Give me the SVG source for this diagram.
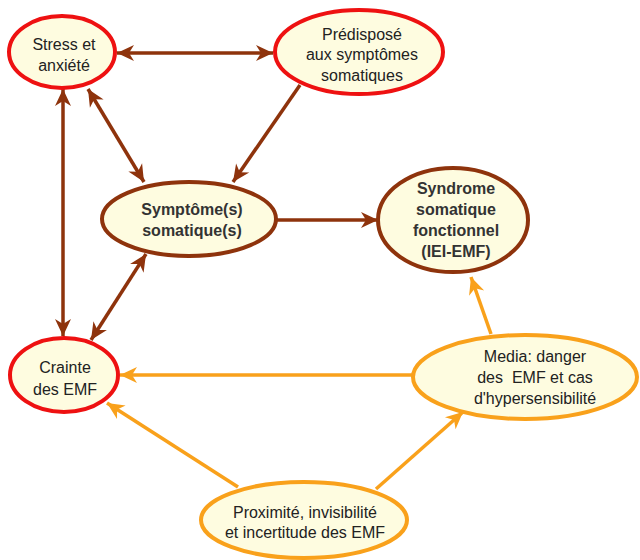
<svg xmlns="http://www.w3.org/2000/svg" width="640" height="560" viewBox="0 0 640 560">
<style>
  .n { fill: #FEFCE0; stroke-width: 4; }
  .red { stroke: #EE1111; }
  .brn { stroke: #8E330C; }
  .org { stroke: #F9A11B; }
  text { font-family: "Liberation Sans", Arial, sans-serif; font-size: 16px; fill: #222; text-anchor: middle; }
  .b { font-weight: bold; fill: #333; }
  .cb { stroke: #8E330C; stroke-width: 3.5; fill: none; }
  .co { stroke: #F9A11B; stroke-width: 3.5; fill: none; }
</style>
<defs>
  <marker id="ab" markerUnits="userSpaceOnUse" markerWidth="22" markerHeight="22" viewBox="-1 -11 22 22" refX="17" refY="0" orient="auto-start-reverse">
    <path d="M0,-8 L17,0 L0,8 L5,0 z" fill="#8E330C"/>
  </marker>
  <marker id="ao" markerUnits="userSpaceOnUse" markerWidth="22" markerHeight="22" viewBox="-1 -11 22 22" refX="17" refY="0" orient="auto-start-reverse">
    <path d="M0,-8 L17,0 L0,8 L5,0 z" fill="#F9A11B"/>
  </marker>
</defs>
<rect width="640" height="560" fill="#FFFFFF"/>
<g id="connectors">
  <line class="cb" x1="117" y1="53" x2="273" y2="53" marker-start="url(#ab)" marker-end="url(#ab)"/>
  <line class="cb" x1="63" y1="89" x2="63" y2="336" marker-start="url(#ab)" marker-end="url(#ab)"/>
  <line class="cb" x1="88" y1="89" x2="144" y2="182" marker-start="url(#ab)" marker-end="url(#ab)"/>
  <line class="cb" x1="300" y1="85" x2="233" y2="182" marker-end="url(#ab)"/>
  <line class="cb" x1="276" y1="220" x2="378" y2="220" marker-end="url(#ab)"/>
  <line class="cb" x1="146" y1="254" x2="91" y2="340" marker-start="url(#ab)" marker-end="url(#ab)"/>
  <line class="co" x1="413" y1="375" x2="120" y2="375" marker-end="url(#ao)"/>
  <line class="co" x1="238" y1="487" x2="107" y2="403" marker-end="url(#ao)"/>
  <line class="co" x1="376" y1="489" x2="463" y2="412" marker-end="url(#ao)"/>
  <line class="co" x1="491" y1="334" x2="471" y2="277" marker-end="url(#ao)"/>
</g>
<g id="stress">
  <ellipse class="n red" cx="62" cy="52" rx="53" ry="36"/>
  <text x="64" y="50">Stress et</text>
  <text x="64" y="71">anxiété</text>
</g>
<g id="predispose">
  <ellipse class="n red" cx="359" cy="52" rx="84" ry="42"/>
  <text x="362" y="40">Prédisposé</text>
  <text x="362" y="60">aux symptômes</text>
  <text x="362" y="81">somatiques</text>
</g>
<g id="symptome">
  <ellipse class="n brn" cx="189" cy="219" rx="87" ry="37"/>
  <text class="b" x="192" y="215">Symptôme(s)</text>
  <text class="b" x="192" y="236">somatique(s)</text>
</g>
<g id="syndrome">
  <ellipse class="n brn" cx="453" cy="220" rx="75" ry="52"/>
  <text class="b" x="456" y="194">Syndrome</text>
  <text class="b" x="456" y="215">somatique</text>
  <text class="b" x="456" y="236">fonctionnel</text>
  <text class="b" x="456" y="257">(IEI-EMF)</text>
</g>
<g id="crainte">
  <ellipse class="n red" cx="64" cy="375" rx="54" ry="37"/>
  <text x="65" y="373">Crainte</text>
  <text x="65" y="395">des EMF</text>
</g>
<g id="media">
  <ellipse class="n org" cx="525" cy="377" rx="112" ry="42"/>
  <text x="535" y="362">Media: danger</text>
  <text x="535" y="383" xml:space="preserve">des  EMF et cas</text>
  <text x="535" y="404">d'hypersensibilité</text>
</g>
<g id="proximite">
  <ellipse class="n org" cx="304" cy="520" rx="103" ry="38"/>
  <text x="305" y="518">Proximité, invisibilité</text>
  <text x="305" y="538">et incertitude des EMF</text>
</g>
</svg>
